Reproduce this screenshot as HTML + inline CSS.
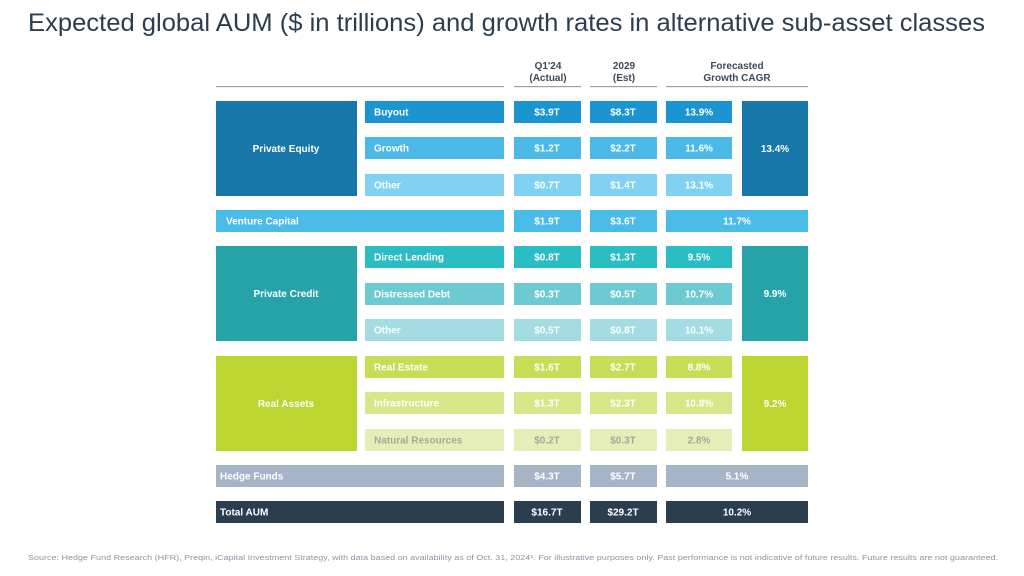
<!DOCTYPE html>
<html><head><meta charset="utf-8"><style>
html,body{margin:0;padding:0;background:#fff;}
svg{display:block;}
text{font-family:"Liberation Sans",sans-serif;}
.v{font-size:10px;font-weight:bold;fill:#fff;text-anchor:middle;}
.l{font-size:10px;font-weight:bold;fill:#fff;}
.h{font-size:10px;font-weight:bold;fill:#3a4a58;text-anchor:middle;}
</style></head><body>
<svg width="1024" height="576" viewBox="0 0 1024 576">
<rect width="1024" height="576" fill="#fff"/>
<text x="28" y="31" font-size="25" fill="#2b3e4f" textLength="957" lengthAdjust="spacingAndGlyphs">Expected global AUM ($ in trillions) and growth rates in alternative sub-asset classes</text>
<text class="h" x="548" y="69">Q1'24</text><text class="h" x="548" y="81">(Actual)</text>
<text class="h" x="624" y="69">2029</text><text class="h" x="624" y="81">(Est)</text>
<text class="h" x="737" y="69">Forecasted</text><text class="h" x="737" y="81">Growth CAGR</text>
<g fill="#9aa3ab">
<rect x="216" y="86" width="288" height="1.2"/><rect x="514" y="86" width="67" height="1.2"/><rect x="590" y="86" width="67" height="1.2"/><rect x="666" y="86" width="142" height="1.2"/>
</g>
<rect x="216" y="101" width="141" height="95" fill="#1677a8"/>
<text class="v" x="286" y="152">Private Equity</text>
<rect x="742" y="101" width="66" height="95" fill="#1677a8"/>
<text class="v" x="775" y="152">13.4%</text>
<g>
<rect x="365" y="101" width="139" height="22" fill="#1a95d2"/><rect x="514" y="101" width="67" height="22" fill="#1a95d2"/><rect x="590" y="101" width="67" height="22" fill="#1a95d2"/><rect x="666" y="101" width="66" height="22" fill="#1a95d2"/>
<text class="l" x="374" y="115.5">Buyout</text><text class="v" x="547" y="115.5">$3.9T</text><text class="v" x="623" y="115.5">$8.3T</text><text class="v" x="699" y="115.5">13.9%</text>
</g>
<g>
<rect x="365" y="137" width="139" height="22" fill="#4bb8e6"/><rect x="514" y="137" width="67" height="22" fill="#4bb8e6"/><rect x="590" y="137" width="67" height="22" fill="#4bb8e6"/><rect x="666" y="137" width="66" height="22" fill="#4bb8e6"/>
<text class="l" x="374" y="151.5">Growth</text><text class="v" x="547" y="151.5">$1.2T</text><text class="v" x="623" y="151.5">$2.2T</text><text class="v" x="699" y="151.5">11.6%</text>
</g>
<g>
<rect x="365" y="174" width="139" height="22" fill="#80d1f2"/><rect x="514" y="174" width="67" height="22" fill="#80d1f2"/><rect x="590" y="174" width="67" height="22" fill="#80d1f2"/><rect x="666" y="174" width="66" height="22" fill="#80d1f2"/>
<text class="l" x="374" y="188.5">Other</text><text class="v" x="547" y="188.5">$0.7T</text><text class="v" x="623" y="188.5">$1.4T</text><text class="v" x="699" y="188.5">13.1%</text>
</g>
<g>
<rect x="216" y="210" width="288" height="22" fill="#4bbbe8"/><rect x="514" y="210" width="67" height="22" fill="#4bbbe8"/><rect x="590" y="210" width="67" height="22" fill="#4bbbe8"/><rect x="666" y="210" width="142" height="22" fill="#4bbbe8"/>
<text class="l" x="226" y="224.5">Venture Capital</text><text class="v" x="547" y="224.5">$1.9T</text><text class="v" x="623" y="224.5">$3.6T</text><text class="v" x="737" y="224.5">11.7%</text>
</g>
<rect x="216" y="246" width="141" height="95" fill="#25a3a8"/>
<text class="v" x="286" y="297">Private Credit</text>
<rect x="742" y="246" width="66" height="95" fill="#25a3a8"/>
<text class="v" x="775" y="297">9.9%</text>
<g>
<rect x="365" y="246" width="139" height="22" fill="#2bbdc4"/><rect x="514" y="246" width="67" height="22" fill="#2bbdc4"/><rect x="590" y="246" width="67" height="22" fill="#2bbdc4"/><rect x="666" y="246" width="66" height="22" fill="#2bbdc4"/>
<text class="l" x="374" y="260.5">Direct Lending</text><text class="v" x="547" y="260.5">$0.8T</text><text class="v" x="623" y="260.5">$1.3T</text><text class="v" x="699" y="260.5">9.5%</text>
</g>
<g>
<rect x="365" y="283" width="139" height="22" fill="#6dc9d2"/><rect x="514" y="283" width="67" height="22" fill="#6dc9d2"/><rect x="590" y="283" width="67" height="22" fill="#6dc9d2"/><rect x="666" y="283" width="66" height="22" fill="#6dc9d2"/>
<text class="l" x="374" y="297.5">Distressed Debt</text><text class="v" x="547" y="297.5">$0.3T</text><text class="v" x="623" y="297.5">$0.5T</text><text class="v" x="699" y="297.5">10.7%</text>
</g>
<g>
<rect x="365" y="319" width="139" height="22" fill="#a4dce4"/><rect x="514" y="319" width="67" height="22" fill="#a4dce4"/><rect x="590" y="319" width="67" height="22" fill="#a4dce4"/><rect x="666" y="319" width="66" height="22" fill="#a4dce4"/>
<text class="l" x="374" y="333.5">Other</text><text class="v" x="547" y="333.5">$0.5T</text><text class="v" x="623" y="333.5">$0.8T</text><text class="v" x="699" y="333.5">10.1%</text>
</g>
<rect x="216" y="356" width="141" height="95" fill="#bcd530"/>
<text class="v" x="286" y="407">Real Assets</text>
<rect x="742" y="356" width="66" height="95" fill="#bcd530"/>
<text class="v" x="775" y="407">9.2%</text>
<g>
<rect x="365" y="356" width="139" height="22" fill="#c9dc55"/><rect x="514" y="356" width="67" height="22" fill="#c9dc55"/><rect x="590" y="356" width="67" height="22" fill="#c9dc55"/><rect x="666" y="356" width="66" height="22" fill="#c9dc55"/>
<text class="l" x="374" y="370.5">Real Estate</text><text class="v" x="547" y="370.5">$1.6T</text><text class="v" x="623" y="370.5">$2.7T</text><text class="v" x="699" y="370.5">8.8%</text>
</g>
<g>
<rect x="365" y="392" width="139" height="22" fill="#d8e68a"/><rect x="514" y="392" width="67" height="22" fill="#d8e68a"/><rect x="590" y="392" width="67" height="22" fill="#d8e68a"/><rect x="666" y="392" width="66" height="22" fill="#d8e68a"/>
<text class="l" x="374" y="406.5">Infrastructure</text><text class="v" x="547" y="406.5">$1.3T</text><text class="v" x="623" y="406.5">$2.3T</text><text class="v" x="699" y="406.5">10.8%</text>
</g>
<g>
<rect x="365" y="429" width="139" height="22" fill="#e5eeb6"/><rect x="514" y="429" width="67" height="22" fill="#e5eeb6"/><rect x="590" y="429" width="67" height="22" fill="#e5eeb6"/><rect x="666" y="429" width="66" height="22" fill="#e5eeb6"/>
<text class="l" x="374" y="443.5" style="fill:#a3aa9c">Natural Resources</text><text class="v" x="547" y="443.5" style="fill:#a3aa9c">$0.2T</text><text class="v" x="623" y="443.5" style="fill:#a3aa9c">$0.3T</text><text class="v" x="699" y="443.5" style="fill:#a3aa9c">2.8%</text>
</g>
<g>
<rect x="216" y="465" width="288" height="22" fill="#a3b5c6"/><rect x="514" y="465" width="67" height="22" fill="#a3b5c6"/><rect x="590" y="465" width="67" height="22" fill="#a3b5c6"/><rect x="666" y="465" width="142" height="22" fill="#a3b5c6"/>
<text class="l" x="220" y="479.5">Hedge Funds</text><text class="v" x="547" y="479.5">$4.3T</text><text class="v" x="623" y="479.5">$5.7T</text><text class="v" x="737" y="479.5">5.1%</text>
</g>
<g>
<rect x="216" y="501" width="288" height="22" fill="#2b3e4f"/><rect x="514" y="501" width="67" height="22" fill="#2b3e4f"/><rect x="590" y="501" width="67" height="22" fill="#2b3e4f"/><rect x="666" y="501" width="142" height="22" fill="#2b3e4f"/>
<text class="l" x="220" y="515.5">Total AUM</text><text class="v" x="547" y="515.5">$16.7T</text><text class="v" x="623" y="515.5">$29.2T</text><text class="v" x="737" y="515.5">10.2%</text>
</g>
<text x="28" y="560" font-size="7.5" fill="#8a96a0" textLength="970" lengthAdjust="spacingAndGlyphs">Source: Hedge Fund Research (HFR), Preqin, iCapital Investment Strategy, with data based on availability as of Oct. 31, 2024¹. For illustrative purposes only. Past performance is not indicative of future results. Future results are not guaranteed.</text>
</svg>
</body></html>
